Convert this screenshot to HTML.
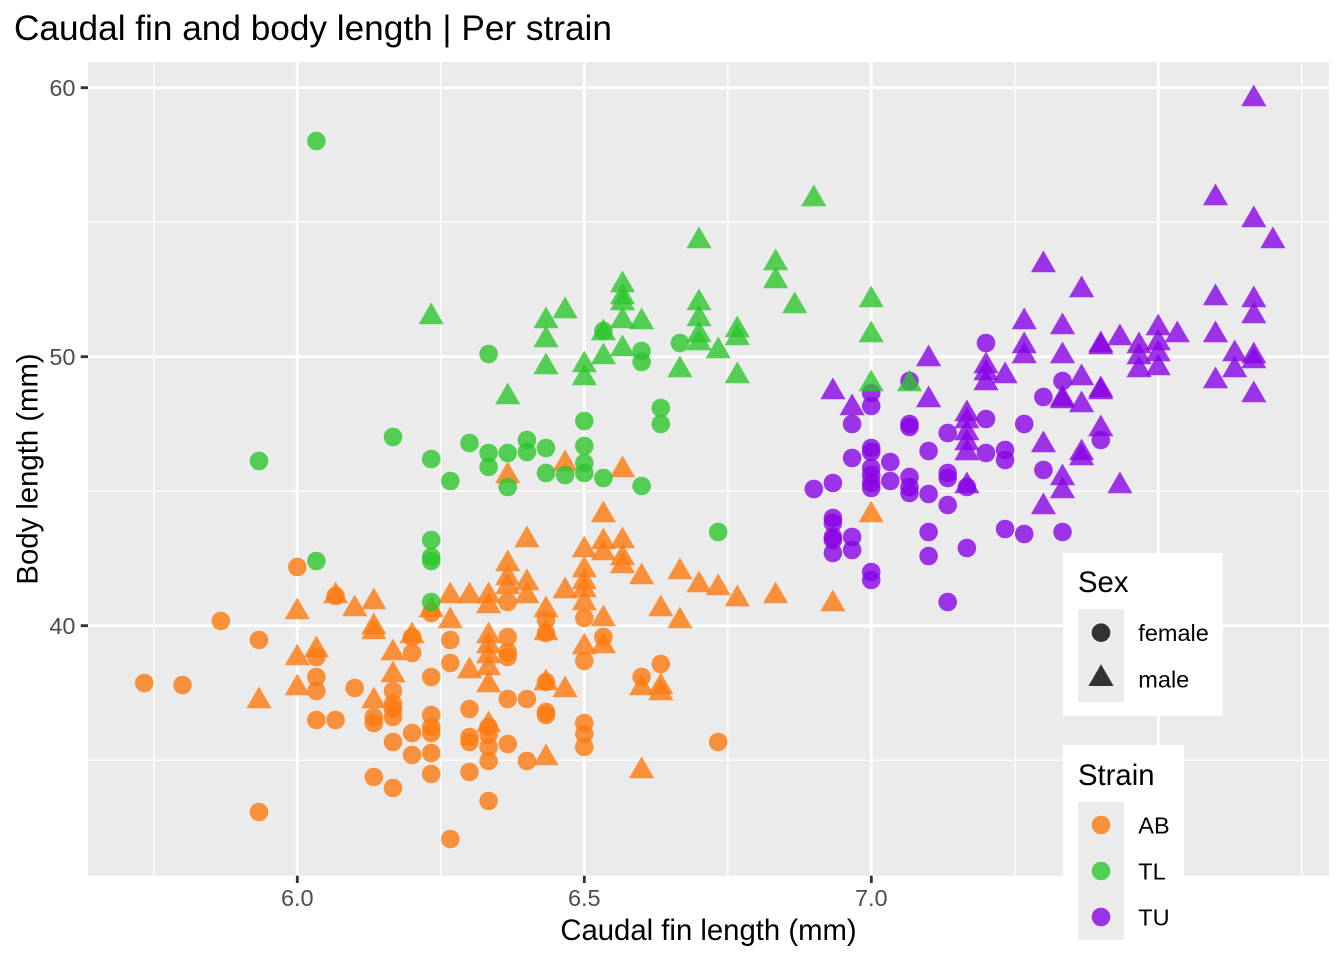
<!DOCTYPE html>
<html><head><meta charset="utf-8"><style>html,body{margin:0;padding:0;background:#fff}svg{display:block}text{font-family:"Liberation Sans",Arial,sans-serif}</style></head>
<body>
<svg width="1344" height="960" viewBox="0 0 1344 960" xmlns="http://www.w3.org/2000/svg">
<defs>
<path id="t" d="M0,-14.5L12.56,7.25L-12.56,7.25Z"/>
<circle id="c" r="9.3"/>
</defs>
<rect width="1344" height="960" fill="#fff"/>
<text x="14" y="40" font-size="35.2" fill="#000">Caudal fin and body length | Per strain</text>
<rect x="88" y="62" width="1241" height="813.7" fill="#EBEBEB"/>
<g stroke="#fff" stroke-width="1.42">
<line x1="88" x2="1329" y1="222.2" y2="222.2"/><line x1="88" x2="1329" y1="491.2" y2="491.2"/><line x1="88" x2="1329" y1="760.2" y2="760.2"/>
<line y1="62" y2="875.7" x1="153.8" x2="153.8"/><line y1="62" y2="875.7" x1="440.8" x2="440.8"/><line y1="62" y2="875.7" x1="727.8" x2="727.8"/><line y1="62" y2="875.7" x1="1014.8" x2="1014.8"/><line y1="62" y2="875.7" x1="1301.8" x2="1301.8"/>
</g>
<g stroke="#fff" stroke-width="2.85">
<line x1="88" x2="1329" y1="87.7" y2="87.7"/><line x1="88" x2="1329" y1="356.7" y2="356.7"/><line x1="88" x2="1329" y1="625.7" y2="625.7"/>
<line y1="62" y2="875.7" x1="297.3" x2="297.3"/><line y1="62" y2="875.7" x1="584.3" x2="584.3"/><line y1="62" y2="875.7" x1="871.3" x2="871.3"/><line y1="62" y2="875.7" x1="1158.3" x2="1158.3"/>
</g>
<!-- AB orange -->
<g fill="#FC7A10" fill-opacity="0.8">
<use href="#c" x="144.3" y="683"/><use href="#c" x="182.5" y="685"/><use href="#c" x="220.8" y="621"/><use href="#c" x="259.0" y="640"/><use href="#c" x="259.0" y="812"/><use href="#c" x="297.3" y="567"/>
<use href="#c" x="316.4" y="657"/><use href="#c" x="316.4" y="677"/><use href="#c" x="316.4" y="691"/><use href="#c" x="316.4" y="720"/>
<use href="#c" x="335.6" y="596"/><use href="#c" x="335.6" y="720"/><use href="#c" x="354.7" y="688"/>
<use href="#c" x="373.8" y="717"/><use href="#c" x="373.8" y="723"/><use href="#c" x="373.8" y="777"/>
<use href="#c" x="393.0" y="691"/><use href="#c" x="393.0" y="704"/><use href="#c" x="393.0" y="709"/><use href="#c" x="393.0" y="717"/><use href="#c" x="393.0" y="742"/><use href="#c" x="393.0" y="788"/>
<use href="#c" x="412.1" y="637"/><use href="#c" x="412.1" y="653"/><use href="#c" x="412.1" y="733"/><use href="#c" x="412.1" y="755"/>
<use href="#c" x="431.2" y="613"/><use href="#c" x="431.2" y="677"/><use href="#c" x="431.2" y="715"/><use href="#c" x="431.2" y="727"/><use href="#c" x="431.2" y="733"/><use href="#c" x="431.2" y="753"/><use href="#c" x="431.2" y="774"/>
<use href="#c" x="450.3" y="640"/><use href="#c" x="450.3" y="663"/><use href="#c" x="450.3" y="839"/>
<use href="#c" x="469.5" y="709"/><use href="#c" x="469.5" y="737"/><use href="#c" x="469.5" y="742"/><use href="#c" x="469.5" y="772"/>
<use href="#c" x="488.6" y="727"/><use href="#c" x="488.6" y="735"/><use href="#c" x="488.6" y="747"/><use href="#c" x="488.6" y="761"/><use href="#c" x="488.6" y="801"/>
<use href="#c" x="507.7" y="602"/><use href="#c" x="507.7" y="637"/><use href="#c" x="507.7" y="652"/><use href="#c" x="507.7" y="657"/><use href="#c" x="507.7" y="699"/><use href="#c" x="507.7" y="744"/>
<use href="#c" x="526.9" y="699"/><use href="#c" x="526.9" y="761"/>
<use href="#c" x="546.0" y="620"/><use href="#c" x="546.0" y="633"/><use href="#c" x="546.0" y="682"/><use href="#c" x="546.0" y="712"/><use href="#c" x="546.0" y="715"/>
<use href="#c" x="584.3" y="618"/><use href="#c" x="584.3" y="661"/><use href="#c" x="584.3" y="723"/><use href="#c" x="584.3" y="734"/><use href="#c" x="584.3" y="747"/>
<use href="#c" x="603.4" y="637"/><use href="#c" x="641.6" y="677"/><use href="#c" x="660.8" y="664"/><use href="#c" x="718.2" y="742"/>
<use href="#t" x="259.0" y="701"/><use href="#t" x="297.3" y="612"/><use href="#t" x="297.3" y="658"/><use href="#t" x="297.3" y="688"/>
<use href="#t" x="316.4" y="650"/><use href="#t" x="335.6" y="596"/><use href="#t" x="354.7" y="609"/>
<use href="#t" x="373.8" y="602"/><use href="#t" x="373.8" y="627"/><use href="#t" x="373.8" y="632"/><use href="#t" x="373.8" y="701"/>
<use href="#t" x="393.0" y="653"/><use href="#t" x="393.0" y="675"/><use href="#t" x="412.1" y="636"/><use href="#t" x="431.2" y="610"/>
<use href="#t" x="450.3" y="596"/><use href="#t" x="450.3" y="621"/><use href="#t" x="469.5" y="596"/><use href="#t" x="469.5" y="671"/>
<use href="#t" x="488.6" y="596"/><use href="#t" x="488.6" y="606"/><use href="#t" x="488.6" y="636"/><use href="#t" x="488.6" y="646"/><use href="#t" x="488.6" y="656"/><use href="#t" x="488.6" y="668"/><use href="#t" x="488.6" y="685"/><use href="#t" x="488.6" y="725"/>
<use href="#t" x="507.7" y="476"/><use href="#t" x="507.7" y="564"/><use href="#t" x="507.7" y="578"/><use href="#t" x="507.7" y="587"/>
<use href="#t" x="526.9" y="540"/><use href="#t" x="526.9" y="583"/><use href="#t" x="526.9" y="596"/>
<use href="#t" x="546.0" y="610"/><use href="#t" x="546.0" y="633"/><use href="#t" x="546.0" y="683"/><use href="#t" x="546.0" y="758"/>
<use href="#t" x="565.1" y="464"/><use href="#t" x="565.1" y="591"/><use href="#t" x="565.1" y="690"/>
<use href="#t" x="584.3" y="550"/><use href="#t" x="584.3" y="570"/><use href="#t" x="584.3" y="582"/><use href="#t" x="584.3" y="590"/><use href="#t" x="584.3" y="603"/><use href="#t" x="584.3" y="647"/>
<use href="#t" x="603.4" y="515"/><use href="#t" x="603.4" y="542"/><use href="#t" x="603.4" y="553"/><use href="#t" x="603.4" y="619"/><use href="#t" x="603.4" y="646"/>
<use href="#t" x="622.5" y="470"/><use href="#t" x="622.5" y="541"/><use href="#t" x="622.5" y="558"/><use href="#t" x="622.5" y="566"/>
<use href="#t" x="641.6" y="577"/><use href="#t" x="641.6" y="688"/><use href="#t" x="641.6" y="771"/>
<use href="#t" x="660.8" y="609"/><use href="#t" x="660.8" y="687"/><use href="#t" x="660.8" y="693"/>
<use href="#t" x="679.9" y="572"/><use href="#t" x="679.9" y="621"/><use href="#t" x="699.0" y="585"/><use href="#t" x="718.2" y="588"/><use href="#t" x="737.3" y="599"/><use href="#t" x="775.6" y="596"/><use href="#t" x="832.9" y="604"/><use href="#t" x="871.2" y="515"/>
</g>
<!-- TU purple -->
<g fill="#8A05E5" fill-opacity="0.8">
<use href="#c" x="813.8" y="489"/>
<use href="#c" x="832.9" y="483"/><use href="#c" x="832.9" y="518"/><use href="#c" x="832.9" y="523"/><use href="#c" x="832.9" y="537"/><use href="#c" x="832.9" y="540"/><use href="#c" x="832.9" y="553"/>
<use href="#c" x="852.1" y="424"/><use href="#c" x="852.1" y="458"/><use href="#c" x="852.1" y="537"/><use href="#c" x="852.1" y="550"/>
<use href="#c" x="871.2" y="393"/><use href="#c" x="871.2" y="406"/><use href="#c" x="871.2" y="448"/><use href="#c" x="871.2" y="452"/><use href="#c" x="871.2" y="468"/><use href="#c" x="871.2" y="475"/><use href="#c" x="871.2" y="483"/><use href="#c" x="871.2" y="488"/><use href="#c" x="871.2" y="572"/><use href="#c" x="871.2" y="580"/>
<use href="#c" x="890.3" y="462"/><use href="#c" x="890.3" y="481"/>
<use href="#c" x="909.5" y="381"/><use href="#c" x="909.5" y="424"/><use href="#c" x="909.5" y="427"/><use href="#c" x="909.5" y="477"/><use href="#c" x="909.5" y="487"/><use href="#c" x="909.5" y="493"/>
<use href="#c" x="928.6" y="451"/><use href="#c" x="928.6" y="494"/><use href="#c" x="928.6" y="532"/><use href="#c" x="928.6" y="556"/>
<use href="#c" x="947.7" y="433"/><use href="#c" x="947.7" y="473"/><use href="#c" x="947.7" y="478"/><use href="#c" x="947.7" y="505"/><use href="#c" x="947.7" y="602"/>
<use href="#c" x="966.9" y="487"/><use href="#c" x="966.9" y="548"/>
<use href="#c" x="986.0" y="343"/><use href="#c" x="986.0" y="419"/><use href="#c" x="986.0" y="453"/>
<use href="#c" x="1005.1" y="450"/><use href="#c" x="1005.1" y="460"/><use href="#c" x="1005.1" y="529"/>
<use href="#c" x="1024.2" y="424"/><use href="#c" x="1024.2" y="534"/>
<use href="#c" x="1043.4" y="397"/><use href="#c" x="1043.4" y="470"/>
<use href="#c" x="1062.5" y="381"/><use href="#c" x="1062.5" y="532"/><use href="#c" x="1100.8" y="440"/>
<use href="#t" x="832.9" y="392"/><use href="#t" x="852.1" y="408"/><use href="#t" x="928.6" y="359"/><use href="#t" x="928.6" y="400"/>
<use href="#t" x="966.9" y="414"/><use href="#t" x="966.9" y="421"/><use href="#t" x="966.9" y="433"/><use href="#t" x="966.9" y="443"/><use href="#t" x="966.9" y="453"/><use href="#t" x="966.9" y="486"/>
<use href="#t" x="986.0" y="366"/><use href="#t" x="986.0" y="373"/><use href="#t" x="986.0" y="383"/><use href="#t" x="1005.1" y="376"/>
<use href="#t" x="1024.2" y="322"/><use href="#t" x="1024.2" y="346"/><use href="#t" x="1024.2" y="356"/>
<use href="#t" x="1043.4" y="265"/><use href="#t" x="1043.4" y="445"/><use href="#t" x="1043.4" y="507"/>
<use href="#t" x="1062.5" y="327"/><use href="#t" x="1062.5" y="356"/><use href="#t" x="1062.5" y="399"/><use href="#t" x="1062.5" y="401"/><use href="#t" x="1062.5" y="478"/><use href="#t" x="1062.5" y="491"/>
<use href="#t" x="1081.6" y="290"/><use href="#t" x="1081.6" y="378"/><use href="#t" x="1081.6" y="405"/><use href="#t" x="1081.6" y="453"/><use href="#t" x="1081.6" y="458"/>
<use href="#t" x="1100.8" y="345"/><use href="#t" x="1100.8" y="347"/><use href="#t" x="1100.8" y="390"/><use href="#t" x="1100.8" y="392"/><use href="#t" x="1100.8" y="429"/>
<use href="#t" x="1119.9" y="338"/><use href="#t" x="1119.9" y="486"/>
<use href="#t" x="1139.0" y="346"/><use href="#t" x="1139.0" y="357"/><use href="#t" x="1139.0" y="370"/>
<use href="#t" x="1158.2" y="328"/><use href="#t" x="1158.2" y="343"/><use href="#t" x="1158.2" y="354"/><use href="#t" x="1158.2" y="368"/>
<use href="#t" x="1177.3" y="335"/>
<use href="#t" x="1215.5" y="198"/><use href="#t" x="1215.5" y="298"/><use href="#t" x="1215.5" y="335"/><use href="#t" x="1215.5" y="381"/>
<use href="#t" x="1234.7" y="354"/><use href="#t" x="1234.7" y="370"/>
<use href="#t" x="1253.8" y="99"/><use href="#t" x="1253.8" y="220"/><use href="#t" x="1253.8" y="300"/><use href="#t" x="1253.8" y="316"/><use href="#t" x="1253.8" y="356"/><use href="#t" x="1253.8" y="361"/><use href="#t" x="1253.8" y="395"/>
<use href="#t" x="1272.9" y="241"/>
</g>
<!-- TL green -->
<g fill="#2DC62D" fill-opacity="0.8">
<use href="#c" x="259.0" y="461"/><use href="#c" x="316.4" y="141"/><use href="#c" x="316.4" y="561"/><use href="#c" x="393.0" y="437"/>
<use href="#c" x="431.2" y="459"/><use href="#c" x="431.2" y="540"/><use href="#c" x="431.2" y="557"/><use href="#c" x="431.2" y="561"/><use href="#c" x="431.2" y="602"/>
<use href="#c" x="450.3" y="481"/><use href="#c" x="469.5" y="443"/>
<use href="#c" x="488.6" y="354"/><use href="#c" x="488.6" y="453"/><use href="#c" x="488.6" y="467"/>
<use href="#c" x="507.7" y="453"/><use href="#c" x="507.7" y="487"/><use href="#c" x="526.9" y="440"/><use href="#c" x="526.9" y="452"/>
<use href="#c" x="546.0" y="448"/><use href="#c" x="546.0" y="473"/><use href="#c" x="565.1" y="475"/>
<use href="#c" x="584.3" y="421"/><use href="#c" x="584.3" y="446"/><use href="#c" x="584.3" y="463"/><use href="#c" x="584.3" y="473"/>
<use href="#c" x="603.4" y="331"/><use href="#c" x="603.4" y="478"/>
<use href="#c" x="641.6" y="351"/><use href="#c" x="641.6" y="362"/><use href="#c" x="641.6" y="486"/>
<use href="#c" x="660.8" y="408"/><use href="#c" x="660.8" y="424"/><use href="#c" x="679.9" y="343"/><use href="#c" x="718.2" y="532"/>
<use href="#t" x="431.2" y="317"/><use href="#t" x="507.7" y="397"/>
<use href="#t" x="546.0" y="321"/><use href="#t" x="546.0" y="340"/><use href="#t" x="546.0" y="367"/><use href="#t" x="565.1" y="311"/>
<use href="#t" x="584.3" y="365"/><use href="#t" x="584.3" y="378"/><use href="#t" x="603.4" y="333"/><use href="#t" x="603.4" y="357"/>
<use href="#t" x="622.5" y="285"/><use href="#t" x="622.5" y="297"/><use href="#t" x="622.5" y="303"/><use href="#t" x="622.5" y="321"/><use href="#t" x="622.5" y="349"/>
<use href="#t" x="641.6" y="322"/><use href="#t" x="679.9" y="370"/>
<use href="#t" x="699.0" y="241"/><use href="#t" x="699.0" y="303"/><use href="#t" x="699.0" y="319"/><use href="#t" x="699.0" y="335"/><use href="#t" x="699.0" y="343"/>
<use href="#t" x="718.2" y="351"/><use href="#t" x="737.3" y="330"/><use href="#t" x="737.3" y="338"/><use href="#t" x="737.3" y="376"/>
<use href="#t" x="775.6" y="263"/><use href="#t" x="775.6" y="281"/><use href="#t" x="794.7" y="306"/><use href="#t" x="813.8" y="199"/>
<use href="#t" x="871.2" y="300"/><use href="#t" x="871.2" y="335"/><use href="#t" x="871.2" y="384"/><use href="#t" x="909.5" y="384"/>
</g>
<!-- axes -->
<g stroke="#333" stroke-width="2.85">
<line x1="80.7" x2="88" y1="87.7" y2="87.7"/><line x1="80.7" x2="88" y1="356.7" y2="356.7"/><line x1="80.7" x2="88" y1="625.7" y2="625.7"/>
<line y1="875.7" y2="883" x1="297.3" x2="297.3"/><line y1="875.7" y2="883" x1="584.3" x2="584.3"/><line y1="875.7" y2="883" x1="871.3" x2="871.3"/><line y1="875.7" y2="883" x1="1158.3" x2="1158.3"/>
</g>
<g font-size="23.5" fill="#4D4D4D">
<text x="75.5" y="96.2" text-anchor="end">60</text><text x="75.5" y="365.2" text-anchor="end">50</text><text x="75.5" y="634.2" text-anchor="end">40</text>
<text x="297.3" y="906" text-anchor="middle">6.0</text><text x="584.3" y="906" text-anchor="middle">6.5</text><text x="871.3" y="906" text-anchor="middle">7.0</text><text x="1158.3" y="906" text-anchor="middle">7.5</text>
</g>
<text x="708.5" y="940" font-size="29.3" text-anchor="middle" fill="#000">Caudal fin length (mm)</text>
<text transform="translate(37.5,469) rotate(-90)" font-size="29.3" text-anchor="middle" fill="#000">Body length (mm)</text>
<!-- legend Sex -->
<rect x="1063" y="553" width="159.7" height="162.7" fill="#fff"/>
<text x="1078" y="592" font-size="29.3" fill="#000">Sex</text>
<rect x="1078" y="609" width="46" height="93" fill="#EBEBEB"/>
<circle cx="1101" cy="632.7" r="9.3" fill="#333"/>
<path d="M1101,664.3L1113.56,686L1088.44,686Z" fill="#333"/>
<text x="1138.3" y="641" font-size="23.5" fill="#000">female</text>
<text x="1138.3" y="687.5" font-size="23.5" fill="#000">male</text>
<!-- legend Strain -->
<rect x="1063" y="745" width="121" height="209" fill="#fff"/>
<text x="1078" y="785" font-size="29.3" fill="#000">Strain</text>
<rect x="1078" y="802" width="46" height="138" fill="#EBEBEB"/>
<circle cx="1101" cy="825" r="9.3" fill="#FC7A10" fill-opacity="0.8"/>
<circle cx="1101" cy="871" r="9.3" fill="#2DC62D" fill-opacity="0.8"/>
<circle cx="1101" cy="917" r="9.3" fill="#8A05E5" fill-opacity="0.8"/>
<text x="1138.3" y="833.5" font-size="23.5" fill="#000">AB</text>
<text x="1138.3" y="879.5" font-size="23.5" fill="#000">TL</text>
<text x="1138.3" y="925.5" font-size="23.5" fill="#000">TU</text>
</svg>
</body></html>
